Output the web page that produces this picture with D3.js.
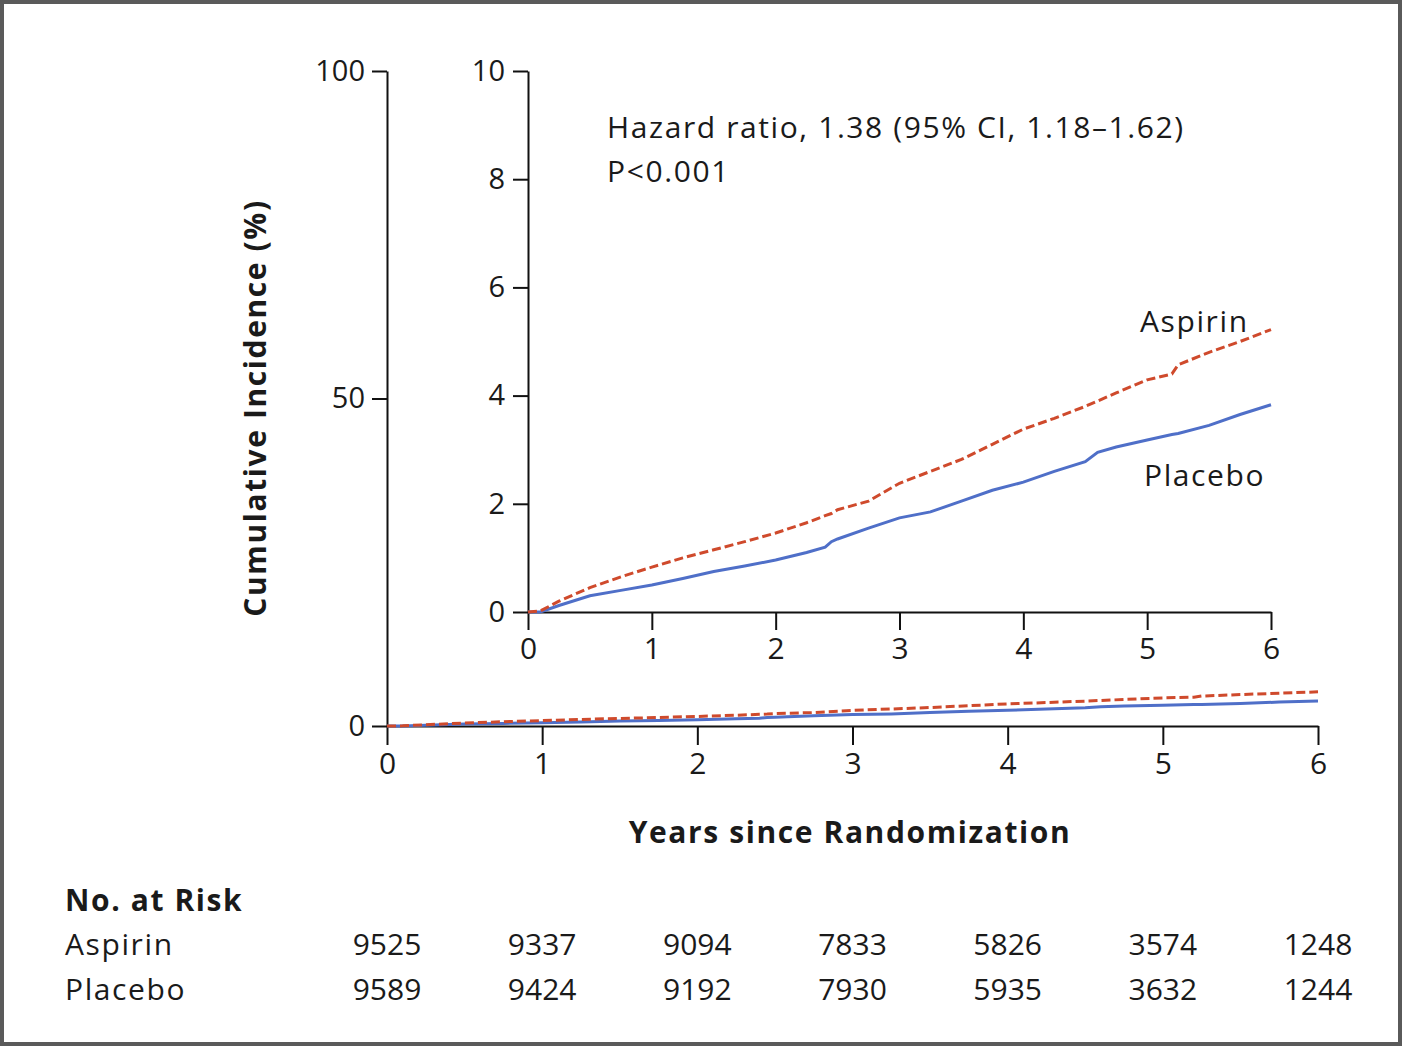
<!DOCTYPE html>
<html>
<head>
<meta charset="utf-8">
<script src="https://cdn.jsdelivr.net/npm/d3@7"></script>
<style>
  body{margin:0;background:#fff;}
  svg text{font-family:"Open Sans",Lato,sans-serif;fill:#1a1a1a;}
  svg text.wide{letter-spacing:1.6px;}
</style>
</head>
<body>
<script>
const years=[0,0.1,0.25,0.5,0.75,1,1.25,1.5,1.75,2,2.25,2.4,2.45,2.5,2.75,3,3.25,3.5,3.75,4,4.25,4.5,4.6,4.75,5,5.2,5.25,5.5,5.75,6];
const aspirin=[0,0.02,0.2,0.45,0.65,0.83,1.0,1.15,1.3,1.46,1.65,1.78,1.82,1.89,2.05,2.38,2.6,2.82,3.1,3.38,3.58,3.8,3.9,4.05,4.29,4.4,4.57,4.8,5.0,5.22];
const placebo=[0,0,0.12,0.3,0.4,0.5,0.62,0.75,0.85,0.96,1.1,1.2,1.3,1.35,1.55,1.74,1.85,2.05,2.25,2.4,2.6,2.78,2.95,3.05,3.18,3.28,3.3,3.45,3.65,3.83];

const xTicks=[0,1,2,3,4,5,6];
const mainYTicks=[0,50,100];
const insetYTicks=[0,2,4,6,8,10];
const riskAspirin=[9525,9337,9094,7833,5826,3574,1248];
const riskPlacebo=[9589,9424,9192,7930,5935,3632,1244];

const w=1402,h=1046;
const svg=d3.select("body").append("svg").attr("width",w).attr("height",h);

svg.append("rect").attr("x",2).attr("y",2).attr("width",w-4).attr("height",h-4)
  .attr("fill","#fff").attr("stroke","#5a5a5a").attr("stroke-width",4);

const RED="#cf4a2c",BLUE="#4f6fc8";

// main chart
const x=d3.scaleLinear().domain([0,6]).range([387,1318]);
const y=d3.scaleLinear().domain([0,100]).range([726,71]);
// inset
const xi=d3.scaleLinear().domain([0,6]).range([528,1271]);
const yi=d3.scaleLinear().domain([0,10]).range([612,71]);

function styleAxis(g,size){
  g.selectAll("path").attr("stroke","#111").attr("stroke-width",2);
  g.selectAll("line").attr("stroke","#111").attr("stroke-width",2);
  g.selectAll("text").style("font-family","'Open Sans', sans-serif").style("font-size",size+"px").attr("fill","#1a1a1a");
}

const gx=svg.append("g").attr("transform","translate(0,726)")
  .call(d3.axisBottom(x).tickValues(xTicks).tickSize(19).tickSizeOuter(0).tickPadding(8).tickFormat(d3.format("d")));
styleAxis(gx,30);
const gy=svg.append("g").attr("transform","translate(387,0)")
  .call(d3.axisLeft(y).tickValues(mainYTicks).tickSize(15).tickSizeOuter(0).tickPadding(7));
styleAxis(gy,29);

const gxi=svg.append("g").attr("transform","translate(0,612)")
  .call(d3.axisBottom(xi).tickValues(xTicks).tickSize(18).tickSizeOuter(0).tickPadding(8).tickFormat(d3.format("d")));
styleAxis(gxi,30);
const gyi=svg.append("g").attr("transform","translate(528,0)")
  .call(d3.axisLeft(yi).tickValues(insetYTicks).tickSize(15).tickSizeOuter(0).tickPadding(8));
styleAxis(gyi,29);

const rows=years.map((t,i)=>({t,a:aspirin[i],p:placebo[i]}));

function drawLines(sx,sy,dash){
  const la=d3.line().x(d=>sx(d.t)).y(d=>sy(d.a));
  const lp=d3.line().x(d=>sx(d.t)).y(d=>sy(d.p));
  svg.append("path").datum(rows).attr("d",lp).attr("fill","none")
    .attr("stroke",BLUE).attr("stroke-width",3);
  svg.append("path").datum(rows).attr("d",la).attr("fill","none")
    .attr("stroke",RED).attr("stroke-width",3).attr("stroke-dasharray",dash);
}
drawLines(x,y,"9,4");
drawLines(xi,yi,"9,4");

svg.append("text").attr("class","wide").attr("x",607).attr("y",138).style("font-size","30px")
  .text("Hazard ratio, 1.38 (95% CI, 1.18\u20131.62)");
svg.append("text").attr("class","wide").attr("x",607).attr("y",182).style("font-size","30px").text("P<0.001");

svg.append("text").attr("class","wide").attr("x",1140).attr("y",332).style("font-size","30px").text("Aspirin");
svg.append("text").attr("class","wide").attr("x",1144).attr("y",486).style("font-size","30px").text("Placebo");

svg.append("text").attr("class","wide").attr("transform","translate(266,408) rotate(-90)").attr("text-anchor","middle")
  .style("font-size","30px").style("font-weight","bold").text("Cumulative Incidence (%)");
svg.append("text").attr("class","wide").attr("x",850).attr("y",843).attr("text-anchor","middle")
  .style("font-size","30px").style("font-weight","bold").text("Years since Randomization");

svg.append("text").attr("class","wide").attr("x",65).attr("y",911).style("font-size","30px").style("font-weight","bold").text("No. at Risk");
svg.append("text").attr("class","wide").attr("x",65).attr("y",955).style("font-size","30px").text("Aspirin");
svg.append("text").attr("class","wide").attr("x",65).attr("y",1000).style("font-size","30px").text("Placebo");

svg.selectAll(".ra").data(riskAspirin).enter().append("text")
  .attr("x",(d,i)=>x(xTicks[i])).attr("y",955).attr("text-anchor","middle")
  .style("font-size","30px").text(d=>d);
svg.selectAll(".rp").data(riskPlacebo).enter().append("text")
  .attr("x",(d,i)=>x(xTicks[i])).attr("y",1000).attr("text-anchor","middle")
  .style("font-size","30px").text(d=>d);
</script>
</body>
</html>
